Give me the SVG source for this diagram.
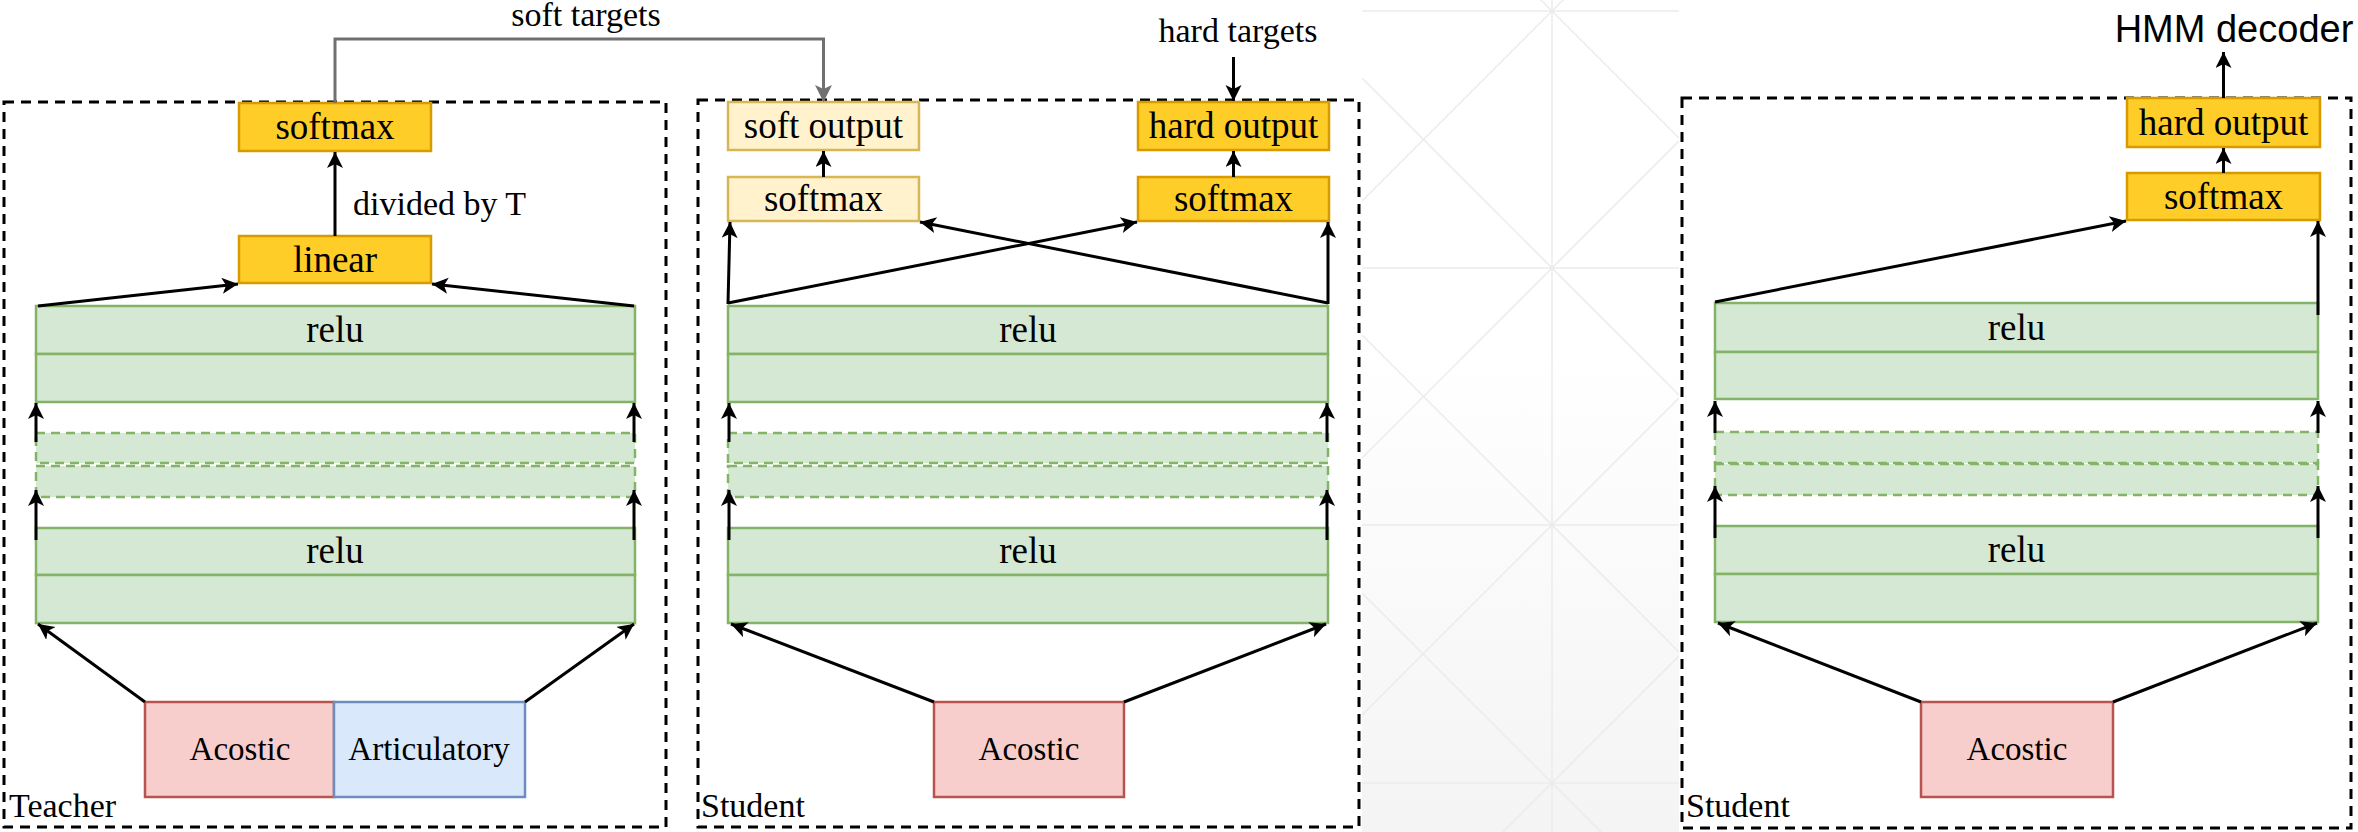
<svg xmlns="http://www.w3.org/2000/svg" width="2358" height="832" viewBox="0 0 2358 832">
<style>
.t{font-family:"Liberation Serif","Times New Roman",serif;fill:#000;text-anchor:middle}
.n{font-size:37px}
.in{font-size:33px}
.lb{font-size:34px}
.gold{fill:#ffcd28;stroke:#d79b00;stroke-width:2.5}
.pale{fill:#fff2cc;stroke:#d6b656;stroke-width:2.5}
.grn{fill:#d5e8d4;stroke:#82b366;stroke-width:2.5}
.grnd{fill:#d5e8d4;stroke:#82b366;stroke-width:2.5;stroke-dasharray:9 6}
.red{fill:#f8cecc;stroke:#b85450;stroke-width:2.5}
.blu{fill:#dae8fc;stroke:#6c8ebf;stroke-width:2.5}
.frame{fill:none;stroke:#000;stroke-width:3;stroke-dasharray:10 7}
.c{fill:none;stroke:#000;stroke-width:3;marker-end:url(#ah)}
.cg{fill:none;stroke:#707070;stroke-width:3;marker-end:url(#ahg)}
.bg{stroke:#ebebeb;stroke-width:1.5;fill:none}
</style>
<defs>
<marker id="ah" markerUnits="userSpaceOnUse" markerWidth="20" markerHeight="20" refX="16" refY="8" orient="auto"><path d="M0,0 L16,8 L0,16 L4,8 Z" fill="#000"/></marker>
<marker id="ahg" markerUnits="userSpaceOnUse" markerWidth="20" markerHeight="20" refX="16" refY="8.5" orient="auto"><path d="M0,0 L17,8.5 L0,17 L4,8.5 Z" fill="#707070"/></marker>
<linearGradient id="fade" gradientUnits="userSpaceOnUse" x1="0" y1="350" x2="0" y2="832"><stop offset="0" stop-color="#ffffff"/><stop offset="1" stop-color="#f4f4f4"/></linearGradient>
<clipPath id="bgclip"><rect x="1362" y="0" width="317" height="832"/></clipPath>
</defs>
<rect x="0" y="0" width="2358" height="832" fill="#fff"/>
<g id="background" clip-path="url(#bgclip)">
<rect x="1362" y="0" width="317" height="832" fill="url(#fade)"/>
<path class="bg" d="M1552,0 V832 M1362,11 H1679 M1362,268 H1679 M1362,525 H1679 M1362,783 H1679
M1362,-436 L1679,-119 M1362,-179 L1679,138 M1362,78 L1679,395 M1362,335 L1679,652 M1362,593 L1679,910
M1362,-56 L1679,-373 M1362,201 L1679,-116 M1362,458 L1679,141 M1362,715 L1679,398 M1362,973 L1679,656 M1362,1230 L1679,913"/>
</g>
<g id="teacher-frame"><rect class="frame" x="4" y="102" width="662" height="725"/><text class="t lb" x="9" y="817" style="text-anchor:start">Teacher</text></g>
<g id="student-frame"><rect class="frame" x="698" y="100" width="661" height="727"/><text class="t lb" x="701" y="817" style="text-anchor:start">Student</text></g>
<g id="student2-frame"><rect class="frame" x="1682" y="98" width="669" height="730"/><text class="t lb" x="1686" y="817" style="text-anchor:start">Student</text></g>

<g id="t-softmax"><rect class="gold" x="239" y="103" width="192" height="48"/><text class="t n" x="335" y="139">softmax</text></g>
<g id="t-linear"><rect class="gold" x="239" y="236" width="192" height="47"/><text class="t n" x="335" y="272">linear</text></g>
<g id="t-relu1"><rect class="grn" x="36" y="306" width="599" height="48"/><rect class="grn" x="36" y="354" width="599" height="48"/><text class="t n" x="335" y="342">relu</text></g>
<g id="t-hidden"><rect class="grnd" x="36" y="433" width="599" height="30"/><rect class="grnd" x="36" y="466" width="599" height="31"/></g>
<g id="t-relu2"><rect class="grn" x="36" y="528" width="599" height="47"/><rect class="grn" x="36" y="575" width="599" height="48"/><text class="t n" x="335" y="563">relu</text></g>
<g id="t-acostic"><rect class="red" x="145" y="702" width="189" height="95"/><text class="t in" x="240" y="760">Acostic</text></g>
<g id="t-articulatory"><rect class="blu" x="334" y="702" width="191" height="95"/><text class="t in" x="429" y="760">Articulatory</text></g>

<g id="s-softout"><rect class="pale" x="728" y="102" width="191" height="48"/><text class="t n" x="823.5" y="138">soft output</text></g>
<g id="s-softmax-soft"><rect class="pale" x="728" y="177" width="191" height="44"/><text class="t n" x="823.5" y="211">softmax</text></g>
<g id="s-hardout"><rect class="gold" x="1138" y="102" width="191" height="48"/><text class="t n" x="1233.5" y="138">hard output</text></g>
<g id="s-softmax-hard"><rect class="gold" x="1138" y="177" width="191" height="44"/><text class="t n" x="1233.5" y="211">softmax</text></g>
<g id="s-relu1"><rect class="grn" x="728" y="306" width="600" height="48"/><rect class="grn" x="728" y="354" width="600" height="48"/><text class="t n" x="1028" y="342">relu</text></g>
<g id="s-hidden"><rect class="grnd" x="728" y="433" width="600" height="30"/><rect class="grnd" x="728" y="466" width="600" height="31"/></g>
<g id="s-relu2"><rect class="grn" x="728" y="528" width="600" height="47"/><rect class="grn" x="728" y="575" width="600" height="48"/><text class="t n" x="1028" y="563">relu</text></g>
<g id="s-acostic"><rect class="red" x="934" y="702" width="190" height="95"/><text class="t in" x="1029" y="760">Acostic</text></g>

<g id="r-hardout"><rect class="gold" x="2127" y="98" width="193" height="49"/><text class="t n" x="2223.5" y="135">hard output</text></g>
<g id="r-softmax"><rect class="gold" x="2127" y="173" width="193" height="47"/><text class="t n" x="2223.5" y="209">softmax</text></g>
<g id="r-relu1"><rect class="grn" x="1715" y="303" width="603" height="49"/><rect class="grn" x="1715" y="352" width="603" height="47"/><text class="t n" x="2016.5" y="340">relu</text></g>
<g id="r-hidden"><rect class="grnd" x="1715" y="432" width="603" height="31"/><rect class="grnd" x="1715" y="464" width="603" height="31"/></g>
<g id="r-relu2"><rect class="grn" x="1715" y="526" width="603" height="48"/><rect class="grn" x="1715" y="574" width="603" height="48"/><text class="t n" x="2016.5" y="562">relu</text></g>
<g id="r-acostic"><rect class="red" x="1921" y="702" width="192" height="95"/><text class="t in" x="2017" y="760">Acostic</text></g>

<g id="labels">
<text class="t lb" x="586" y="26">soft targets</text>
<text class="t lb" x="1238" y="42">hard targets</text>
<text class="t lb" x="353" y="215" style="text-anchor:start">divided by T</text>
<text x="2234" y="42" style="font-family:'Liberation Sans',Arial,sans-serif;font-size:38px;text-anchor:middle;fill:#000">HMM decoder</text>
</g>

<g id="connectors">
<path class="cg" d="M335,103 V39 H823.5 V101"/>
<path class="c" d="M1233.5,57 V101"/>
<path class="c" d="M2223.5,98 V52"/>
<!-- teacher -->
<path class="c" d="M335,236 V152"/>
<path class="c" d="M38,306 L238,284"/>
<path class="c" d="M634,306 L432,284"/>
<path class="c" d="M36,540 V490"/>
<path class="c" d="M36,442 V403"/>
<path class="c" d="M634,540 V490"/>
<path class="c" d="M634,442 V403"/>
<path class="c" d="M145,702 L38,624"/>
<path class="c" d="M525,702 L634,624"/>
<!-- student -->
<path class="c" d="M823.5,177 V151"/>
<path class="c" d="M1233.5,177 V151"/>
<path class="c" d="M728,304 L730,222"/>
<path class="c" d="M1328,304 V222"/>
<path class="c" d="M728,303 L1137,222"/>
<path class="c" d="M1328,303 L920,222"/>
<path class="c" d="M729,540 V490"/>
<path class="c" d="M729,442 V403"/>
<path class="c" d="M1327,540 V490"/>
<path class="c" d="M1327,442 V403"/>
<path class="c" d="M934,702 L731,624"/>
<path class="c" d="M1124,702 L1326,624"/>
<!-- right student -->
<path class="c" d="M2223.5,173 V148"/>
<path class="c" d="M1715,302 L2126,221"/>
<path class="c" d="M2318,315 V221"/>
<path class="c" d="M1715,538 V486"/>
<path class="c" d="M1715,433 V401"/>
<path class="c" d="M2318,538 V486"/>
<path class="c" d="M2318,433 V401"/>
<path class="c" d="M1921,702 L1718,623"/>
<path class="c" d="M2113,702 L2317,623"/>
</g>
</svg>
